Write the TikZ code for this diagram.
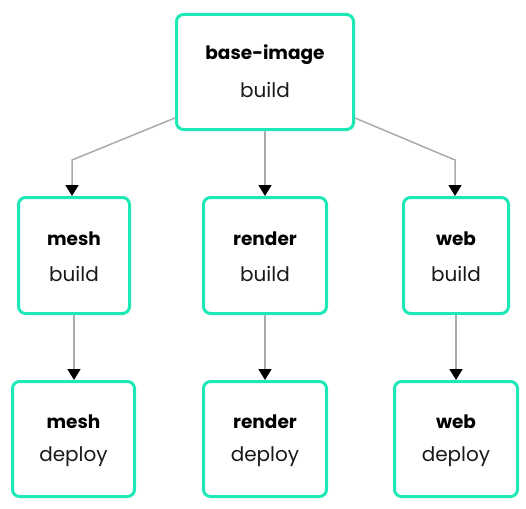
\documentclass[tikz,border=0pt]{standalone}
\usepackage{fontspec}
\setmainfont{Poppins}
\usetikzlibrary{arrows.meta}
\definecolor{boxc}{HTML}{1DE9B6}
\definecolor{linec}{HTML}{ABABAB}
\tikzset{
  job/.style={draw=boxc, line width=3pt, rounded corners=7pt, fill=white, inner sep=0pt, anchor=north west},
  conn/.style={draw=linec, line width=1.5pt, -{Triangle[length=11pt,width=13pt,color=black]}},
  ttl/.style={font=\fontsize{18.5}{21}\selectfont\bfseries, text=black},
  sub/.style={font=\fontsize{20}{23}\selectfont, text=black!90},
}
\begin{document}
\begin{tikzpicture}[x=1pt,y=-1pt]
\useasboundingbox (0,0) rectangle (526,508);
% boxes
\node[job, minimum width=177pt, minimum height=115pt] (base) at (175,13) {};
\node[job, minimum width=111pt, minimum height=116pt] (meshb) at (17,196) {};
\node[job, minimum width=123pt, minimum height=116pt] (renderb) at (202,196) {};
\node[job, minimum width=105pt, minimum height=116pt] (webb) at (402,196) {};
\node[job, minimum width=122pt, minimum height=115pt] (meshd) at (11,380) {};
\node[job, minimum width=123pt, minimum height=115pt] (renderd) at (202,380) {};
\node[job, minimum width=123pt, minimum height=115pt] (webd) at (393,380) {};
% texts
\foreach \n/\t/\s in {base/base-image/build, meshb/mesh/build, renderb/render/build, webb/web/build, meshd/mesh/deploy, renderd/render/deploy, webd/web/deploy}{
  \node[ttl] (\n-t) at ([yshift=17pt]\n.center) {\t};
  \node[sub] (\n-s) at ([yshift=-18pt]\n.center) {\s};
}
% connectors
\coordinate (bl) at (72,160);
\coordinate (br) at (455,160);
\draw[conn] ([yshift=13pt]base.south west) -- (bl) -- (bl |- meshb.north);
\draw[conn] (base.south) -- (renderb.north);
\draw[conn] ([yshift=13pt]base.south east) -- (br) -- (br |- webb.north);
\draw[conn] (meshb.south) -- (meshb.south |- meshd.north);
\draw[conn] (renderb.south) -- (renderd.north);
\draw[conn] (webb.south) -- (webb.south |- webd.north);
\end{tikzpicture}
\end{document}
